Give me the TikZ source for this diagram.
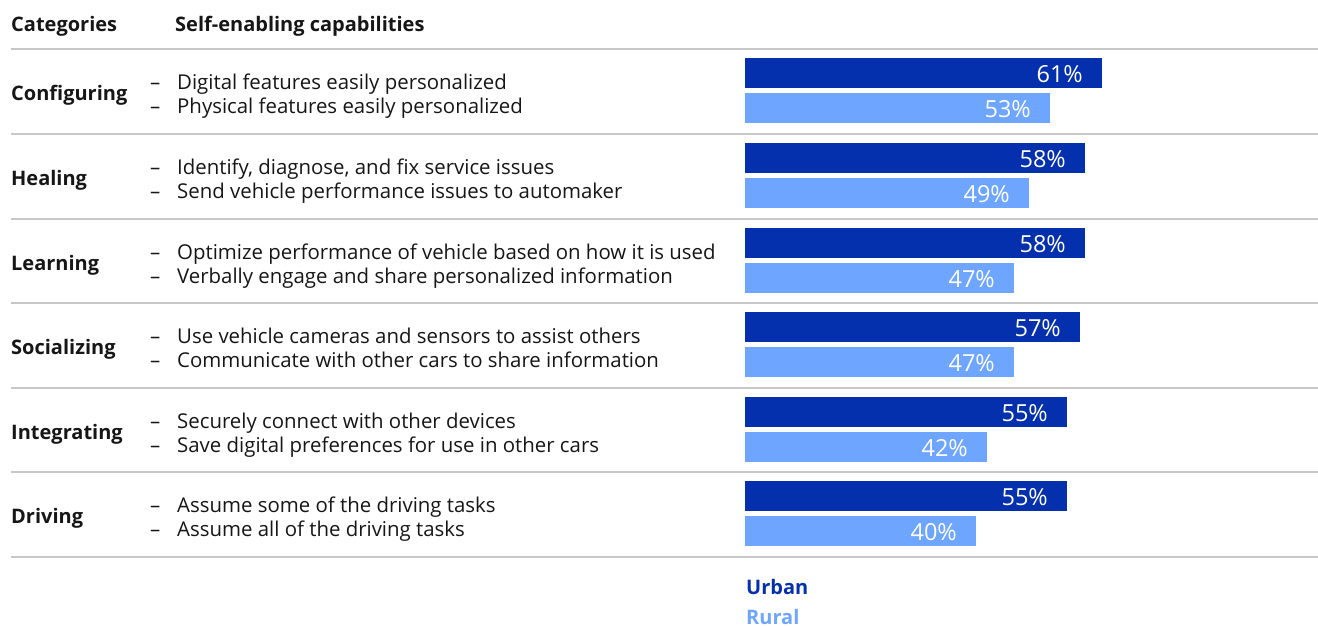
\documentclass[tikz,border=0pt]{standalone}
\usepackage{fontspec}
\setmainfont{Open Sans}
\definecolor{urban}{HTML}{0530AD}
\definecolor{rural}{HTML}{6EA6FF}
\definecolor{ink}{HTML}{161616}
\definecolor{rulecol}{HTML}{C8C8C8}
\newcommand{\chartrow}[9]{%
  \node[cat] (cat#1) at (11,{#2+51}) {#3};
  \node[txt] (da#1) at (150,{#2+40}) {–};
  \node[txt] (a#1) at (177,{#2+40}) {#4};
  \node[txt] (db#1) at (150,{#2+64}) {–};
  \node[txt] (b#1) at (177,{#2+64}) {#5};
  \fill[urban] (745,{#2+8.5}) rectangle (#7,{#2+39});
  \fill[rural] (745,{#2+44}) rectangle (#9,{#2+74});
  \node[pct] (pu#1) at ({#7-19},{#2+33}) {#6\%};
  \node[pct] (pr#1) at ({#9-19},{#2+68}) {#8\%};
}
\begin{document}
\begin{tikzpicture}[x=1pt,y=-1pt,
  txt/.style={inner sep=0pt, anchor=base west, font=\fontsize{20.4}{24}\selectfont, text=ink},
  cat/.style={txt, font=\fontsize{20}{24}\selectfont\bfseries},
  pct/.style={inner sep=0pt, anchor=base east, font=\fontsize{23.5}{26}\selectfont, text=white},
  sep/.style={draw=rulecol, line width=1.3pt}]
\useasboundingbox (0,0) rectangle (1318,625);
\node[cat] (hcat) at (11,31.5) {Categories};
\node[cat] (hcap) at (175,31.5) {Self-enabling capabilities};
\foreach \yy in {49,134,219,303,388,472,557} {\draw[sep] (11,\yy) -- (1318,\yy);}
\chartrow{1}{49}{Configuring}{Digital features easily personalized}{Physical features easily personalized}{61}{1102}{53}{1050}
\chartrow{2}{134}{Healing}{Identify, diagnose, and fix service issues}{Send vehicle performance issues to automaker}{58}{1085}{49}{1029}
\chartrow{3}{219}{Learning}{Optimize performance of vehicle based on how it is used}{Verbally engage and share personalized information}{58}{1085}{47}{1014}
\chartrow{4}{303}{Socializing}{Use vehicle cameras and sensors to assist others}{Communicate with other cars to share information}{57}{1080}{47}{1014}
\chartrow{5}{388}{Integrating}{Securely connect with other devices}{Save digital preferences for use in other cars}{55}{1067}{42}{987}
\chartrow{6}{472}{Driving}{Assume some of the driving tasks}{Assume all of the driving tasks}{55}{1067}{40}{976}
\node[cat, text=urban] (lu) at (746,594) {Urban};
\node[cat, text=rural] (lr) at (746,624) {Rural};
\end{tikzpicture}
\end{document}
